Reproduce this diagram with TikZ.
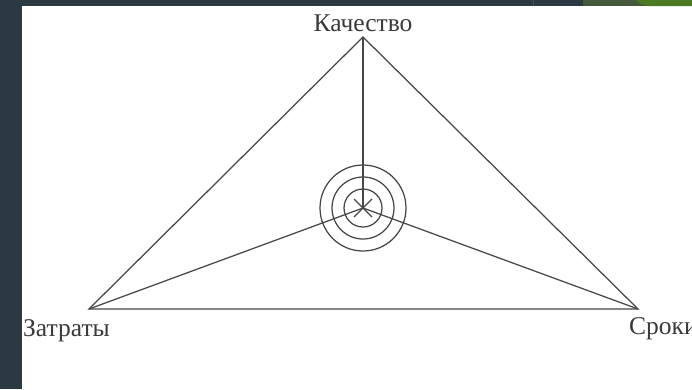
\documentclass[tikz,border=0pt]{standalone}
\usepackage{fontspec}
\usetikzlibrary{calc}
\setmainfont{Liberation Serif}
\definecolor{bgdark}{HTML}{2B3A42}
\definecolor{olive}{HTML}{44593A}
\definecolor{grn}{HTML}{4B7A22}
\definecolor{ink}{HTML}{474747}
\definecolor{txt}{HTML}{3A3A3A}
\begin{document}
\begin{tikzpicture}[x=1pt,y=-1pt,
  edge/.style={draw=ink,line width=1.25pt},
  lbl/.style={text=txt,font=\fontsize{25.5}{27}\selectfont,inner sep=0pt,anchor=base}]
\useasboundingbox (0,0) rectangle (692,389);
\fill[white] (0,0) rectangle (692,389);
\fill[bgdark] (0,0) rectangle (22,389);
\fill[bgdark] (0,0) rectangle (692,6);
\fill[olive] (583,0) rectangle (692,6);
\fill[grn] (636,0) .. controls (640,4) .. (648,6) -- (692,6) -- (692,0) -- cycle;
\draw[black!70,line width=1pt] (533,0) -- (533,6);
% vertices
\coordinate (Q) at (363,37);
\coordinate (Z) at (89,309);
\coordinate (S) at (638,309);
\coordinate (C) at (363,208);
\draw[edge] (Q) -- (Z) -- (S) -- cycle;
\draw[edge] (Q) -- (C);
\draw[edge] (Z) -- (C);
\draw[edge] (S) -- (C);
\draw[edge] (C) circle[radius=43];
\draw[edge] (C) circle[radius=31];
\draw[edge] (C) circle[radius=19];
\draw[edge] ($(C)+(-9,-9)$) -- ($(C)+(9,9)$);
\draw[edge] ($(C)+(9,-9)$) -- ($(C)+(-9,9)$);
% labels
\node[lbl] (kach) at (363,31) {Качество};
\node[lbl,anchor=base west] (zatr) at (23,336) {Затраты};
\node[lbl,anchor=base west] (srok) at (629,334) {Сроки};
\end{tikzpicture}
\end{document}
